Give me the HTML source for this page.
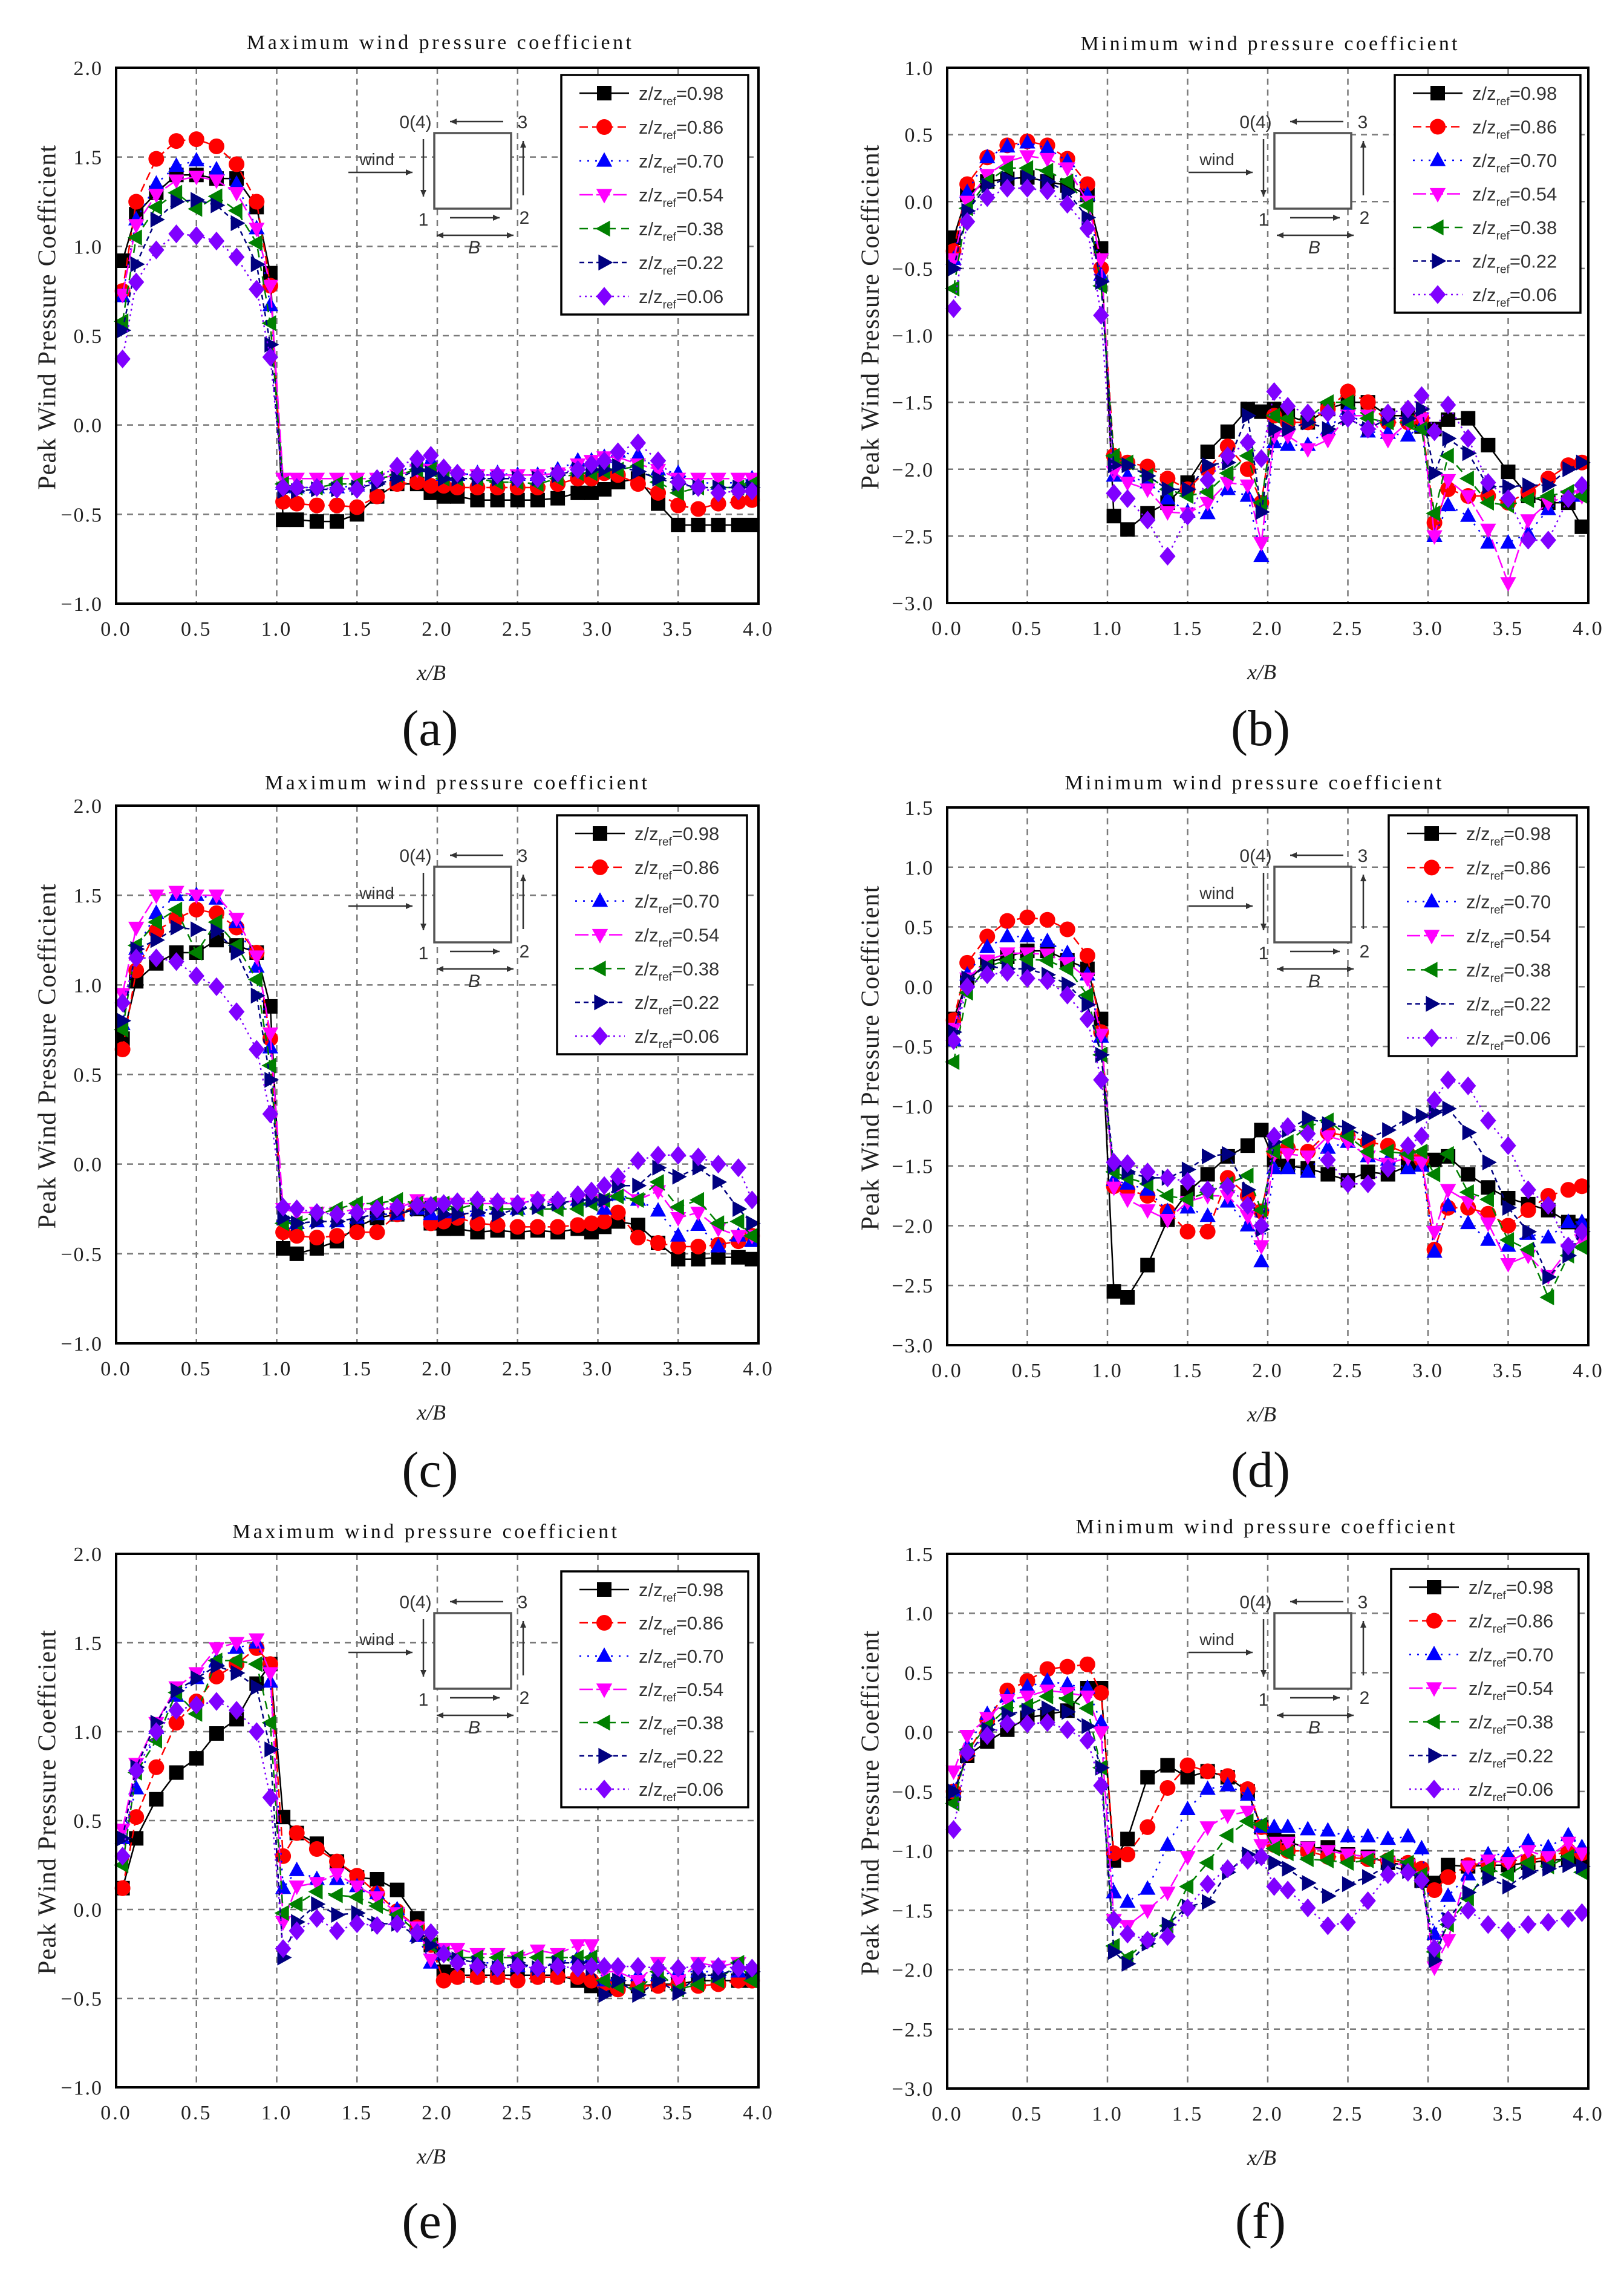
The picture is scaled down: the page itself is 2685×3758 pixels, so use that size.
<!DOCTYPE html>
<html><head><meta charset="utf-8"><title>Peak wind pressure coefficient</title>
<style>html,body{margin:0;padding:0;background:#fff}svg{display:block}</style></head>
<body>
<svg id="fig" xmlns="http://www.w3.org/2000/svg" width="2685" height="3758" viewBox="0 0 2685 3758"></svg>
<script>
const xs=[0.04,0.125,0.25,0.375,0.5,0.625,0.75,0.875,0.96,1.04,1.125,1.25,1.375,1.5,1.625,1.75,1.875,1.96,2.04,2.125,2.25,2.375,2.5,2.625,2.75,2.875,2.96,3.04,3.125,3.25,3.375,3.5,3.625,3.75,3.875,3.96];
const seriesLabels=["0.98","0.86","0.70","0.54","0.38","0.22","0.06"];
const xTicks=[0,0.5,1,1.5,2,2.5,3,3.5,4];

const a098=[0.92,1.18,1.30,1.40,1.40,1.38,1.38,1.22,0.85,-0.53,-0.53,-0.54,-0.54,-0.50,-0.40,-0.33,-0.33,-0.38,-0.40,-0.40,-0.42,-0.42,-0.42,-0.42,-0.41,-0.38,-0.38,-0.36,-0.32,-0.30,-0.44,-0.56,-0.56,-0.56,-0.56,-0.56];
const a086=[0.75,1.25,1.49,1.59,1.60,1.56,1.46,1.25,0.78,-0.43,-0.44,-0.45,-0.45,-0.46,-0.40,-0.33,-0.32,-0.34,-0.34,-0.35,-0.35,-0.35,-0.35,-0.35,-0.33,-0.30,-0.30,-0.27,-0.28,-0.33,-0.38,-0.45,-0.47,-0.44,-0.43,-0.42];
const a070=[0.72,1.15,1.35,1.45,1.48,1.43,1.35,1.10,0.67,-0.33,-0.35,-0.35,-0.35,-0.34,-0.30,-0.28,-0.20,-0.20,-0.28,-0.28,-0.27,-0.27,-0.28,-0.28,-0.25,-0.20,-0.20,-0.18,-0.15,-0.17,-0.25,-0.27,-0.32,-0.33,-0.32,-0.30];
const a054=[0.73,1.12,1.29,1.37,1.39,1.37,1.30,1.10,0.78,-0.30,-0.30,-0.30,-0.30,-0.30,-0.30,-0.28,-0.25,-0.25,-0.28,-0.28,-0.28,-0.28,-0.28,-0.28,-0.27,-0.22,-0.20,-0.18,-0.18,-0.22,-0.25,-0.30,-0.30,-0.30,-0.30,-0.30];
const a038=[0.58,1.05,1.22,1.30,1.21,1.28,1.20,1.02,0.57,-0.33,-0.35,-0.35,-0.33,-0.33,-0.30,-0.28,-0.25,-0.25,-0.30,-0.30,-0.30,-0.32,-0.32,-0.33,-0.30,-0.27,-0.27,-0.26,-0.25,-0.23,-0.32,-0.38,-0.35,-0.35,-0.35,-0.33];
const a022=[0.53,0.90,1.15,1.25,1.26,1.23,1.13,0.90,0.45,-0.37,-0.37,-0.36,-0.36,-0.35,-0.33,-0.30,-0.25,-0.27,-0.30,-0.30,-0.30,-0.30,-0.30,-0.30,-0.28,-0.25,-0.25,-0.25,-0.23,-0.26,-0.30,-0.33,-0.35,-0.35,-0.35,-0.35];
const a006=[0.37,0.80,0.98,1.07,1.06,1.03,0.94,0.76,0.38,-0.35,-0.35,-0.35,-0.36,-0.36,-0.30,-0.23,-0.19,-0.17,-0.24,-0.27,-0.28,-0.28,-0.30,-0.30,-0.27,-0.25,-0.22,-0.20,-0.15,-0.10,-0.20,-0.32,-0.35,-0.38,-0.37,-0.37];

const b098=[-0.27,0.05,0.15,0.17,0.18,0.15,0.12,0.05,-0.35,-2.35,-2.45,-2.33,-2.25,-2.10,-1.87,-1.72,-1.55,-1.57,-1.55,-1.60,-1.65,-1.55,-1.50,-1.50,-1.60,-1.60,-1.68,-1.70,-1.63,-1.62,-1.82,-2.02,-2.20,-2.25,-2.25,-2.43];
const b086=[-0.37,0.13,0.33,0.42,0.45,0.42,0.32,0.13,-0.50,-1.90,-1.95,-1.98,-2.07,-2.15,-2.00,-1.83,-2.00,-2.25,-1.60,-1.65,-1.65,-1.55,-1.42,-1.50,-1.65,-1.65,-1.62,-2.40,-2.15,-2.20,-2.20,-2.25,-2.17,-2.07,-1.97,-1.95];
const b070=[-0.43,0.07,0.33,0.41,0.44,0.40,0.30,0.05,-0.55,-2.05,-2.05,-2.10,-2.22,-2.32,-2.33,-2.15,-2.20,-2.65,-1.80,-1.82,-1.82,-1.70,-1.55,-1.72,-1.73,-1.75,-1.68,-2.50,-2.27,-2.35,-2.55,-2.55,-2.48,-2.30,-2.20,-2.20];
const b054=[-0.43,0.00,0.20,0.30,0.34,0.32,0.25,0.00,-0.43,-2.02,-2.10,-2.15,-2.32,-2.33,-2.25,-2.10,-2.12,-2.55,-1.75,-1.75,-1.85,-1.78,-1.60,-1.60,-1.78,-1.65,-1.62,-2.50,-2.08,-2.20,-2.45,-2.85,-2.38,-2.25,-2.20,-2.20];
const b038=[-0.65,-0.05,0.15,0.25,0.25,0.23,0.15,-0.03,-0.63,-1.90,-1.95,-2.05,-2.15,-2.20,-2.17,-2.03,-1.90,-2.25,-1.60,-1.62,-1.62,-1.50,-1.50,-1.62,-1.65,-1.65,-1.70,-2.33,-1.90,-2.07,-2.25,-2.27,-2.23,-2.20,-2.17,-2.20];
const b022=[-0.50,-0.07,0.12,0.17,0.18,0.15,0.07,-0.12,-0.60,-1.97,-1.97,-2.05,-2.15,-2.15,-1.97,-1.95,-1.60,-2.32,-1.70,-1.70,-1.65,-1.70,-1.62,-1.70,-1.62,-1.62,-1.55,-2.03,-1.77,-1.88,-2.13,-2.13,-2.12,-2.12,-2.00,-1.95];
const b006=[-0.80,-0.15,0.03,0.10,0.10,0.08,-0.02,-0.20,-0.85,-2.18,-2.22,-2.38,-2.65,-2.35,-2.08,-1.90,-1.80,-1.92,-1.42,-1.53,-1.58,-1.58,-1.62,-1.70,-1.58,-1.55,-1.45,-1.72,-1.52,-1.77,-2.10,-2.22,-2.53,-2.53,-2.22,-2.12];

const c098=[0.70,1.02,1.12,1.18,1.18,1.25,1.22,1.18,0.88,-0.47,-0.50,-0.47,-0.43,-0.35,-0.30,-0.28,-0.25,-0.33,-0.36,-0.36,-0.38,-0.37,-0.38,-0.37,-0.38,-0.36,-0.38,-0.35,-0.32,-0.34,-0.44,-0.53,-0.53,-0.52,-0.52,-0.53];
const c086=[0.64,1.08,1.30,1.37,1.42,1.40,1.32,1.18,0.70,-0.38,-0.40,-0.41,-0.40,-0.38,-0.38,-0.28,-0.23,-0.33,-0.32,-0.30,-0.33,-0.34,-0.35,-0.35,-0.35,-0.34,-0.33,-0.32,-0.27,-0.41,-0.44,-0.46,-0.46,-0.45,-0.43,-0.40];
const c070=[0.78,1.20,1.40,1.50,1.50,1.48,1.35,1.10,0.65,-0.30,-0.33,-0.32,-0.32,-0.30,-0.28,-0.28,-0.25,-0.28,-0.27,-0.27,-0.26,-0.25,-0.25,-0.22,-0.22,-0.20,-0.20,-0.25,-0.17,-0.20,-0.26,-0.40,-0.34,-0.46,-0.40,-0.43];
const c054=[0.95,1.32,1.50,1.52,1.50,1.50,1.37,1.16,0.73,-0.25,-0.27,-0.27,-0.27,-0.25,-0.25,-0.25,-0.20,-0.22,-0.22,-0.22,-0.22,-0.22,-0.22,-0.20,-0.22,-0.20,-0.20,-0.20,-0.12,-0.20,-0.15,-0.30,-0.27,-0.36,-0.40,-0.40];
const c038=[0.75,1.22,1.35,1.42,1.18,1.35,1.22,1.03,0.55,-0.33,-0.33,-0.28,-0.25,-0.22,-0.22,-0.20,-0.22,-0.22,-0.22,-0.25,-0.22,-0.25,-0.25,-0.25,-0.25,-0.25,-0.22,-0.20,-0.18,-0.20,-0.10,-0.24,-0.20,-0.33,-0.32,-0.40];
const c022=[0.80,1.20,1.25,1.32,1.31,1.30,1.18,0.94,0.47,-0.30,-0.33,-0.32,-0.32,-0.30,-0.28,-0.27,-0.25,-0.25,-0.28,-0.28,-0.27,-0.28,-0.25,-0.24,-0.22,-0.20,-0.20,-0.20,-0.12,-0.12,-0.02,-0.07,-0.02,-0.10,-0.25,-0.33];
const c006=[0.90,1.15,1.15,1.13,1.05,0.99,0.85,0.64,0.28,-0.24,-0.25,-0.27,-0.28,-0.27,-0.25,-0.24,-0.23,-0.23,-0.22,-0.21,-0.20,-0.21,-0.22,-0.20,-0.20,-0.17,-0.15,-0.12,-0.07,0.02,0.05,0.05,0.04,0.00,-0.02,-0.20];

const d098=[-0.27,0.05,0.20,0.25,0.30,0.30,0.22,0.15,-0.27,-2.55,-2.60,-2.33,-1.95,-1.72,-1.57,-1.42,-1.33,-1.20,-1.45,-1.50,-1.52,-1.57,-1.62,-1.55,-1.57,-1.50,-1.48,-1.45,-1.42,-1.57,-1.68,-1.77,-1.82,-1.87,-1.97,-2.00];
const d086=[-0.28,0.20,0.42,0.55,0.58,0.56,0.48,0.26,-0.38,-1.67,-1.70,-1.75,-1.88,-2.05,-2.05,-1.60,-1.75,-1.88,-1.38,-1.35,-1.38,-1.22,-1.25,-1.30,-1.33,-1.40,-1.45,-2.20,-1.85,-1.85,-1.90,-2.00,-1.87,-1.75,-1.70,-1.67];
const d070=[-0.45,0.10,0.33,0.42,0.42,0.38,0.28,0.10,-0.42,-1.62,-1.65,-1.70,-1.88,-1.85,-1.92,-1.80,-2.00,-2.30,-1.52,-1.52,-1.55,-1.35,-1.30,-1.42,-1.45,-1.52,-1.50,-2.22,-1.83,-1.98,-2.12,-2.17,-2.07,-2.10,-1.97,-1.97];
const d054=[-0.35,0.07,0.22,0.28,0.28,0.27,0.20,0.07,-0.40,-1.68,-1.78,-1.87,-1.95,-1.80,-1.75,-1.75,-1.92,-2.17,-1.40,-1.40,-1.42,-1.25,-1.30,-1.42,-1.48,-1.43,-1.47,-2.05,-1.70,-1.80,-1.98,-2.32,-2.25,-2.42,-2.20,-2.12];
const d038=[-0.63,-0.05,0.17,0.22,0.23,0.22,0.15,-0.07,-0.57,-1.55,-1.60,-1.65,-1.75,-1.78,-1.72,-1.65,-1.58,-1.87,-1.38,-1.30,-1.17,-1.12,-1.25,-1.38,-1.38,-1.40,-1.38,-1.57,-1.40,-1.72,-1.78,-2.12,-2.20,-2.60,-2.25,-2.18];
const d022=[-0.38,0.07,0.17,0.15,0.15,0.10,0.02,-0.15,-0.57,-1.50,-1.55,-1.60,-1.60,-1.53,-1.42,-1.40,-1.70,-2.03,-1.30,-1.20,-1.10,-1.15,-1.18,-1.27,-1.20,-1.10,-1.08,-1.05,-1.02,-1.22,-1.47,-1.85,-2.05,-2.43,-2.25,-2.05];
const d006=[-0.45,0.00,0.10,0.12,0.07,0.05,-0.07,-0.27,-0.78,-1.47,-1.48,-1.55,-1.60,-1.63,-1.70,-1.67,-1.83,-2.00,-1.25,-1.17,-1.23,-1.45,-1.65,-1.65,-1.52,-1.33,-1.25,-0.95,-0.78,-0.83,-1.12,-1.33,-1.70,-1.83,-2.17,-2.05];

const e098=[0.12,0.40,0.62,0.77,0.85,0.99,1.07,1.27,1.38,0.52,0.43,0.37,0.27,0.18,0.17,0.11,-0.05,-0.20,-0.35,-0.37,-0.37,-0.37,-0.37,-0.37,-0.37,-0.40,-0.43,-0.45,-0.42,-0.43,-0.42,-0.42,-0.40,-0.40,-0.40,-0.40];
const e086=[0.12,0.52,0.80,1.05,1.17,1.31,1.38,1.47,1.38,0.30,0.43,0.34,0.27,0.19,0.09,-0.01,-0.10,-0.20,-0.40,-0.38,-0.38,-0.38,-0.40,-0.38,-0.38,-0.38,-0.40,-0.42,-0.45,-0.43,-0.43,-0.42,-0.43,-0.42,-0.40,-0.40];
const e070=[0.40,0.68,1.02,1.20,1.30,1.40,1.47,1.50,1.28,0.12,0.22,0.17,0.17,0.13,0.09,0.00,-0.15,-0.30,-0.25,-0.27,-0.30,-0.30,-0.32,-0.32,-0.30,-0.27,-0.27,-0.40,-0.37,-0.37,-0.37,-0.35,-0.35,-0.35,-0.35,-0.37];
const e054=[0.45,0.82,1.05,1.25,1.33,1.47,1.50,1.52,1.33,-0.07,0.13,0.15,0.20,0.13,0.07,-0.02,-0.10,-0.28,-0.22,-0.22,-0.25,-0.25,-0.27,-0.23,-0.25,-0.20,-0.20,-0.35,-0.35,-0.40,-0.30,-0.40,-0.30,-0.32,-0.30,-0.35];
const e038=[0.25,0.77,0.95,1.22,1.10,1.40,1.40,1.38,1.05,-0.02,0.03,0.10,0.08,0.07,0.02,-0.03,-0.13,-0.20,-0.25,-0.27,-0.27,-0.27,-0.27,-0.27,-0.27,-0.27,-0.27,-0.40,-0.43,-0.45,-0.35,-0.45,-0.42,-0.40,-0.30,-0.40];
const e022=[0.40,0.80,1.05,1.23,1.30,1.37,1.33,1.25,0.90,-0.27,-0.07,0.03,-0.03,-0.02,-0.08,-0.08,-0.15,-0.20,-0.25,-0.28,-0.30,-0.33,-0.30,-0.33,-0.30,-0.30,-0.33,-0.48,-0.40,-0.48,-0.40,-0.47,-0.37,-0.37,-0.33,-0.35];
const e006=[0.30,0.78,1.00,1.12,1.15,1.17,1.12,1.00,0.63,-0.22,-0.12,-0.05,-0.12,-0.08,-0.09,-0.08,-0.13,-0.13,-0.25,-0.30,-0.32,-0.33,-0.32,-0.33,-0.32,-0.33,-0.32,-0.32,-0.32,-0.32,-0.33,-0.33,-0.32,-0.32,-0.33,-0.33];

const f098=[-0.52,-0.20,-0.08,0.02,0.12,0.15,0.18,0.37,0.37,-1.08,-0.90,-0.38,-0.28,-0.38,-0.33,-0.38,-0.50,-0.80,-0.88,-0.92,-0.98,-0.97,-1.03,-1.05,-1.10,-1.12,-1.25,-1.27,-1.12,-1.13,-1.12,-1.12,-1.10,-1.08,-1.07,-1.07];
const f086=[-0.50,-0.18,0.10,0.35,0.43,0.53,0.55,0.57,0.33,-1.02,-1.03,-0.80,-0.47,-0.28,-0.33,-0.37,-0.48,-0.80,-0.95,-1.00,-1.00,-1.05,-1.05,-1.07,-1.08,-1.10,-1.15,-1.33,-1.22,-1.12,-1.10,-1.08,-1.08,-1.05,-1.00,-1.02];
const f070=[-0.50,-0.12,0.15,0.30,0.38,0.43,0.40,0.37,0.08,-1.35,-1.43,-1.32,-0.95,-0.65,-0.48,-0.45,-0.53,-0.80,-0.80,-0.80,-0.82,-0.83,-0.88,-0.88,-0.90,-0.88,-0.98,-1.70,-1.38,-1.20,-1.03,-1.03,-0.92,-0.97,-0.87,-0.97];
const f054=[-0.33,-0.03,0.12,0.27,0.30,0.35,0.33,0.30,0.00,-1.58,-1.63,-1.50,-1.35,-1.05,-0.80,-0.70,-0.67,-0.95,-0.93,-0.93,-0.97,-1.00,-1.03,-1.05,-1.10,-1.12,-1.22,-1.98,-1.75,-1.13,-1.08,-1.10,-1.00,-1.05,-0.93,-1.02];
const f038=[-0.60,-0.15,0.05,0.20,0.22,0.30,0.28,0.20,-0.30,-1.80,-1.90,-1.75,-1.63,-1.30,-1.10,-0.87,-0.75,-0.78,-0.98,-1.02,-1.07,-1.08,-1.10,-1.08,-1.05,-1.10,-1.20,-1.85,-1.62,-1.40,-1.15,-1.20,-1.10,-1.13,-1.05,-1.18];
const f022=[-0.50,-0.20,0.02,0.15,0.18,0.20,0.17,0.05,-0.30,-1.85,-1.95,-1.78,-1.62,-1.47,-1.43,-1.18,-1.03,-1.05,-1.10,-1.15,-1.27,-1.38,-1.28,-1.22,-1.12,-1.17,-1.25,-1.92,-1.58,-1.35,-1.23,-1.30,-1.18,-1.15,-1.12,-1.13];
const f006=[-0.82,-0.17,-0.03,0.07,0.07,0.08,0.02,-0.07,-0.45,-1.58,-1.70,-1.75,-1.72,-1.48,-1.28,-1.15,-1.08,-1.05,-1.30,-1.33,-1.48,-1.63,-1.60,-1.42,-1.20,-1.18,-1.25,-1.82,-1.58,-1.50,-1.62,-1.67,-1.62,-1.60,-1.57,-1.52];

const styles=[
 {c:"#000000",dash:"",m:"square"},
 {c:"#ff0000",dash:"14 7",m:"circle"},
 {c:"#0000ff",dash:"3 10",m:"up"},
 {c:"#ff00ff",dash:"22 6",m:"down"},
 {c:"#008000",dash:"14 9",m:"left"},
 {c:"#000080",dash:"8 6",m:"right"},
 {c:"#8000ff",dash:"3 6",m:"diamond"}];

const panels=[
 {id:"a",left:192,right:1254,top:112,bottom:998,yMax:2,yMin:-1,title:"Maximum wind pressure coefficient",tx:726,ty:70,tl:636,lg:[928,124,309,396],sq:[718,220],cap:1204,data:[a098,a086,a070,a054,a038,a022,a006]},
 {id:"b",left:1566,right:2626,top:112,bottom:997,yMax:1,yMin:-3,title:"Minimum wind pressure coefficient",tx:2098,ty:72,tl:623,lg:[2306,124,307,393],sq:[2107,220],cap:1204,data:[b098,b086,b070,b054,b038,b022,b006]},
 {id:"c",left:192,right:1254,top:1332,bottom:2221,yMax:2,yMin:-1,title:"Maximum wind pressure coefficient",tx:754,ty:1294,tl:632,lg:[921,1348,314,395],sq:[718,1433],cap:2430,data:[c098,c086,c070,c054,c038,c022,c006]},
 {id:"d",left:1566,right:2626,top:1335,bottom:2224,yMax:1.5,yMin:-3,title:"Minimum wind pressure coefficient",tx:2072,ty:1294,tl:623,lg:[2296,1348,311,398],sq:[2107,1433],cap:2430,data:[d098,d086,d070,d054,d038,d022,d006]},
 {id:"e",left:192,right:1254,top:2569,bottom:3451,yMax:2,yMin:-1,title:"Maximum wind pressure coefficient",tx:702,ty:2532,tl:636,lg:[928,2598,309,390],sq:[718,2667],cap:3672,data:[e098,e086,e070,e054,e038,e022,e006]},
 {id:"f",left:1566,right:2626,top:2569,bottom:3453,yMax:1.5,yMin:-3,title:"Minimum wind pressure coefficient",tx:2092,ty:2524,tl:627,lg:[2300,2594,310,394],sq:[2107,2667],cap:3672,data:[f098,f086,f070,f054,f038,f022,f006]}];

const NS="http://www.w3.org/2000/svg";
const svg=document.getElementById("fig");
function mk(tag,attrs,parent){const e=document.createElementNS(NS,tag);for(const k in attrs)e.setAttribute(k,attrs[k]);(parent||svg).appendChild(e);return e;}
function fmt(v){const s=Math.abs(v).toFixed(1);return v<0?"\u2212"+s:s;}
function markerPath(type,x,y,s){
 switch(type){
  case "square":return `M${x-s},${y-s}h${2*s}v${2*s}h${-2*s}Z`;
  case "circle":return `M${x-s},${y}a${s},${s} 0 1,0 ${2*s},0a${s},${s} 0 1,0 ${-2*s},0Z`;
  case "up":return `M${x},${y-s*1.2}L${x+s*1.1},${y+s*0.8}L${x-s*1.1},${y+s*0.8}Z`;
  case "down":return `M${x},${y+s*1.2}L${x+s*1.1},${y-s*0.8}L${x-s*1.1},${y-s*0.8}Z`;
  case "left":return `M${x-s*1.2},${y}L${x+s*0.8},${y-s*1.1}L${x+s*0.8},${y+s*1.1}Z`;
  case "right":return `M${x+s*1.2},${y}L${x-s*0.8},${y-s*1.1}L${x-s*0.8},${y+s*1.1}Z`;
  default:return `M${x},${y-s*1.3}L${x+s*1.1},${y}L${x},${y+s*1.3}L${x-s*1.1},${y}Z`;
 }
}
function arrow(g,x1,y1,x2,y2,both){
 mk("line",{x1:x1,y1:y1,x2:x2,y2:y2,stroke:"#333","stroke-width":2.5},g);
 const head=(xa,ya,xb,yb)=>{const ang=Math.atan2(yb-ya,xb-xa),L=11,W=5;
  const px=xb-L*Math.cos(ang),py=yb-L*Math.sin(ang);
  mk("path",{d:`M${xb},${yb}L${px-W*Math.sin(ang)},${py+W*Math.cos(ang)}L${px+W*Math.sin(ang)},${py-W*Math.cos(ang)}Z`,fill:"#333"},g);};
 head(x1,y1,x2,y2); if(both) head(x2,y2,x1,y1);
}

panels.forEach(p=>{
 const X=v=>p.left+v/4*(p.right-p.left);
 const Y=v=>p.top+(p.yMax-v)/(p.yMax-p.yMin)*(p.bottom-p.top);
 const g=mk("g",{});
 
 
 const grid=mk("g",{stroke:"#7a7a7a","stroke-width":2.5,"stroke-dasharray":"10 8"},g);
 
 
 xTicks.forEach(t=>{ if(t>0&&t<4) mk("line",{x1:X(t),x2:X(t),y1:p.top,y2:p.bottom},grid); });
 const yTicks=[];for(let v=p.yMax;v>=p.yMin-1e-9;v-=0.5)yTicks.push(+v.toFixed(2));
 yTicks.forEach(t=>{ if(t<p.yMax&&t>p.yMin) mk("line",{x1:p.left,x2:p.right,y1:Y(t),y2:Y(t)},grid); });
 const xtl=mk("g",{"font-family":"Liberation Serif, serif","font-size":34,fill:"#222","text-anchor":"middle","letter-spacing":"3"},g);
 
 
 xTicks.forEach(t=>{const e=mk("text",{x:X(t),y:p.bottom+53},xtl);e.textContent=t.toFixed(1);});
 const ytl=mk("g",{"font-family":"Liberation Serif, serif","font-size":34,fill:"#222","text-anchor":"end","letter-spacing":"2"},g);
 
 
 yTicks.forEach(t=>{const e=mk("text",{x:p.left-22,y:Y(t)+12},ytl);e.textContent=fmt(t);});
 const ti=mk("text",{x:p.tx,y:p.ty+11,"text-anchor":"middle","font-family":"Liberation Serif, serif","font-size":34,fill:"#111",textLength:p.tl,lengthAdjust:"spacing"},g);
 ti.textContent=p.title;
 
 
 const xl=mk("text",{x:(p.left+p.right)/2-10,y:p.bottom+126,"text-anchor":"middle","font-family":"Liberation Serif, serif","font-style":"italic","font-size":36,fill:"#222"},g);
 xl.textContent="x/B";
 
 
 const cy=(p.top+p.bottom)/2-30, cx=p.left-(p.id==="a"||p.id==="c"||p.id==="e"?110:123);
 const yl=mk("text",{x:cx,y:cy,transform:`rotate(-90 ${cx} ${cy})`,"text-anchor":"middle","dominant-baseline":"middle","font-family":"Liberation Serif, serif","font-size":42,fill:"#222",textLength:570,lengthAdjust:"spacing"},g);
 yl.textContent="Peak Wind Pressure Coefficient";
 
 
 const cap=mk("text",{x:(p.left+p.right)/2-12,y:p.cap+28,"text-anchor":"middle","font-family":"Liberation Serif, serif","font-size":84,fill:"#111"},g);
 cap.textContent="("+p.id+")";
 
 
 p.data.forEach((vals,i)=>{
  const st=styles[i];
  const sg=mk("g",{},g);
  
  
  const d=vals.map((v,k)=>(k?"L":"M")+X(xs[k]).toFixed(1)+","+Y(v).toFixed(1)).join("");
  mk("path",{d:d,fill:"none",stroke:st.c,"stroke-width":2.5,"stroke-dasharray":st.dash},sg);
  vals.forEach((v,k)=>{
   const m=mk("path",{d:markerPath(st.m,X(xs[k]),Y(v),st.m==="circle"?13:12),fill:st.c},sg);
   
   
  });
 });
 const fr=mk("rect",{x:p.left,y:p.top,width:p.right-p.left,height:p.bottom-p.top,fill:"none",stroke:"#000","stroke-width":4},g);
 
 
 const [lx,ly,lw,lh]=p.lg;
 const lg=mk("g",{},g);
 
 
 mk("rect",{x:lx,y:ly,width:lw,height:lh,fill:"#fff",stroke:"#000","stroke-width":3.5},lg);
 const step=(lh-60)/6;
 seriesLabels.forEach((lab,i)=>{
  const st=styles[i], ry=ly+30+i*step;
  const le=mk("g",{},lg);
  
  
  mk("line",{x1:lx+30,x2:lx+112,y1:ry,y2:ry,stroke:st.c,"stroke-width":2.5,"stroke-dasharray":st.dash},le);
  mk("path",{d:markerPath(st.m,lx+71,ry,st.m==="circle"?13:12),fill:st.c},le);
  const t=mk("text",{x:lx+128,y:ry+11,"font-family":"Liberation Sans, sans-serif","font-size":31,fill:"#333"},le);
  t.innerHTML='z/z<tspan font-size="19" dy="9">ref</tspan><tspan dy="-9">='+lab+'</tspan>';
 });
 const [sx,sy]=p.sq;
 const ins=mk("g",{},g);
 
 
 mk("rect",{x:sx,y:sy,width:127,height:125,fill:"#fff",stroke:"#555","stroke-width":3.5},ins);
 const lab=(s,x,y,extra)=>{const e=mk("text",Object.assign({x:x,y:y,"text-anchor":"middle","font-family":"Liberation Sans, sans-serif","font-size":30,fill:"#333"},extra||{}),ins);e.textContent=s;return e;};
 lab("0(4)",sx-31,sy-8);
 lab("3",sx+146,sy-8);
 lab("1",sx-18,sy+153);
 lab("2",sx+149,sy+150);
 lab("wind",sx-95,sy+53,{"font-size":28});
 lab("B",sx+66,sy+199,{"font-style":"italic"});
 arrow(ins,sx-142,sy+65,sx-36,sy+65);
 arrow(ins,sx-18,sy+10,sx-18,sy+105);
 arrow(ins,sx+114,sy-19,sx+26,sy-19);
 arrow(ins,sx+147,sy+103,sx+147,sy+13);
 arrow(ins,sx+26,sy+140,sx+108,sy+140);
 arrow(ins,sx+4,sy+169,sx+131,sy+169,true);
});
</script>
</body></html>
